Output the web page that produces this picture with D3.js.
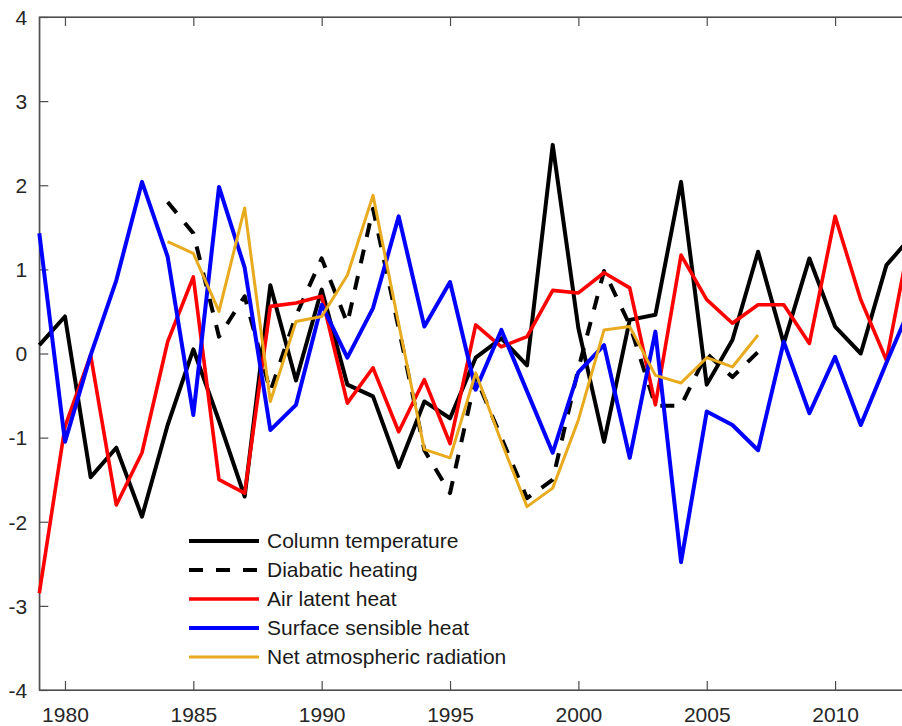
<!DOCTYPE html>
<html>
<head>
<meta charset="utf-8">
<script src="https://cdn.jsdelivr.net/npm/d3@7"></script>
<style>
    body { margin: 0; background: #fff; }
    svg { display: block; }
    .axis text { font-family: "Liberation Sans", Arial, sans-serif; font-size: 21px; fill: #262626; }
    .legend text { font-family: "Liberation Sans", Arial, sans-serif; font-size: 21px; fill: #1a1a1a; }
</style>
</head>
<body>
<div id="chart"></div>
<script>

// years for the full series
let years = [1979, 1980, 1981, 1982, 1983, 1984, 1985, 1986, 1987, 1988, 1989, 1990,
    1991, 1992, 1993, 1994, 1995, 1996, 1997, 1998, 1999, 2000, 2001, 2002,
    2003, 2004, 2005, 2006, 2007, 2008, 2009, 2010, 2011, 2012, 2013];

// years for the two shorter series
let shortYears = [1984, 1985, 1986, 1987, 1988, 1989, 1990, 1991, 1992, 1993, 1994, 1995,
    1996, 1997, 1998, 1999, 2000, 2001, 2002, 2003, 2004, 2005, 2006, 2007];

let columnTemp = [0.1, 0.44, -1.47, -1.12, -1.94, -0.85, 0.05, -0.8, -1.7, 0.81, -0.32, 0.76,
    -0.37, -0.51, -1.35, -0.57, -0.77, -0.05, 0.18, -0.14, 2.48, 0.3, -1.05, 0.4,
    0.46, 2.04, -0.37, 0.16, 1.21, 0.12, 1.13, 0.32, 0.0, 1.05, 1.4];

let diabatic = [1.8, 1.43, 0.2, 0.68, -0.45, 0.45, 1.13, 0.36, 1.72, 0.3, -1.15, -1.66,
    -0.28, -1.0, -1.72, -1.5, -0.18, 0.98, 0.34, -0.62, -0.62, 0.0, -0.28, 0.02];

let airLatent = [-2.85, -0.87, -0.02, -1.8, -1.18, 0.14, 0.91, -1.5, -1.66, 0.56, 0.6, 0.68,
    -0.59, -0.17, -0.93, -0.31, -1.07, 0.34, 0.08, 0.2, 0.75, 0.72, 0.96, 0.78,
    -0.61, 1.17, 0.64, 0.36, 0.58, 0.58, 0.12, 1.63, 0.64, -0.08, 1.5];

let surfSensible = [1.43, -1.05, -0.02, 0.87, 2.04, 1.15, -0.73, 1.98, 1.02, -0.91, -0.61, 0.58,
    -0.05, 0.54, 1.63, 0.32, 0.85, -0.43, 0.28, -0.45, -1.18, -0.22, 0.1, -1.24,
    0.26, -2.48, -0.69, -0.85, -1.15, 0.14, -0.71, -0.04, -0.85, -0.11, 0.6];

let netRadiation = [1.33, 1.19, 0.5, 1.73, -0.57, 0.38, 0.44, 0.93, 1.88, 0.35, -1.14, -1.24,
    -0.23, -1.05, -1.82, -1.6, -0.79, 0.28, 0.32, -0.26, -0.35, -0.05, -0.16, 0.22];

let xTicks = [1980, 1985, 1990, 1995, 2000, 2005, 2010];
let yTicks = [-4, -3, -2, -1, 0, 1, 2, 3, 4];

let seriesNames = ["Column temperature", "Diabatic heating", "Air latent heat",
    "Surface sensible heat", "Net atmospheric radiation"];

// build series list for drawing
let series = [
    {name: seriesNames[0], x: years, y: columnTemp, color: "#000000", width: 4, dash: null},
    {name: seriesNames[1], x: shortYears, y: diabatic, color: "#000000", width: 4, dash: "14,13"},
    {name: seriesNames[2], x: years, y: airLatent, color: "#ff0000", width: 3.6, dash: null},
    {name: seriesNames[3], x: years, y: surfSensible, color: "#0000ff", width: 4, dash: null},
    {name: seriesNames[4], x: shortYears, y: netRadiation, color: "#e8aa1e", width: 3, dash: null}
];

let margin = {top: 17, left: 39.3};
let plotW = 872.8, plotH = 673;

let svg = d3.select("#chart").append("svg")
    .attr("width", 902)
    .attr("height", 726);

let g = svg.append("g")
    .attr("transform", `translate(${margin.left}, ${margin.top})`);

let x = d3.scaleLinear().domain([1979, 2013]).range([0, plotW]);
let y = d3.scaleLinear().domain([-4, 4]).range([plotH, 0]);

// box
g.append("rect")
    .attr("width", plotW)
    .attr("height", plotH)
    .attr("fill", "none")
    .attr("stroke", "#4d4d4d")
    .attr("stroke-width", 1.2);

// axes with inward ticks
let xAxis = g.append("g")
    .attr("class", "axis")
    .attr("transform", `translate(0, ${plotH})`)
    .call(d3.axisBottom(x).tickValues(xTicks).tickFormat(d3.format("d")).tickSizeInner(-9).tickSizeOuter(0).tickPadding(17));

let yAxis = g.append("g")
    .attr("class", "axis")
    .call(d3.axisLeft(y).tickValues(yTicks).tickFormat(d => d).tickSizeInner(-9).tickSizeOuter(0).tickPadding(12));

// mirrored ticks on top and right
g.append("g")
    .call(d3.axisTop(x).tickValues(xTicks).tickFormat("").tickSizeInner(-9).tickSizeOuter(0));
g.append("g")
    .attr("transform", `translate(${plotW}, 0)`)
    .call(d3.axisRight(y).tickValues(yTicks).tickFormat("").tickSizeInner(-9).tickSizeOuter(0));

g.selectAll(".domain").attr("stroke", "#4d4d4d").attr("stroke-width", 1.2);
g.selectAll(".tick line").attr("stroke", "#4d4d4d").attr("stroke-width", 1.2);
xAxis.selectAll("text").attr("dy", "0.71em");
yAxis.selectAll("text").attr("dy", "0.35em");

// lines
let line = d3.line()
    .x(d => x(d[0]))
    .y(d => y(d[1]));

series.forEach(s => {
    let pts = s.x.map((yr, i) => [yr, s.y[i]]);
    g.append("path")
        .datum(pts)
        .attr("fill", "none")
        .attr("stroke", s.color)
        .attr("stroke-width", s.width)
        .attr("stroke-linejoin", "round")
        .attr("stroke-dasharray", s.dash)
        .attr("d", line);
});

// legend
let legend = svg.append("g")
    .attr("class", "legend")
    .attr("transform", "translate(180, 524)");

legend.append("rect")
    .attr("width", 335)
    .attr("height", 148)
    .attr("fill", "#fff");

series.forEach((s, i) => {
    let row = legend.append("g")
        .attr("transform", `translate(0, ${17 + i * 29})`);
    row.append("line")
        .attr("x1", 9).attr("x2", 79)
        .attr("stroke", s.color)
        .attr("stroke-width", s.width)
        .attr("stroke-dasharray", s.dash);
    row.append("text")
        .attr("x", 87)
        .attr("dy", "0.35em")
        .text(s.name);
});

</script>
</body>
</html>
